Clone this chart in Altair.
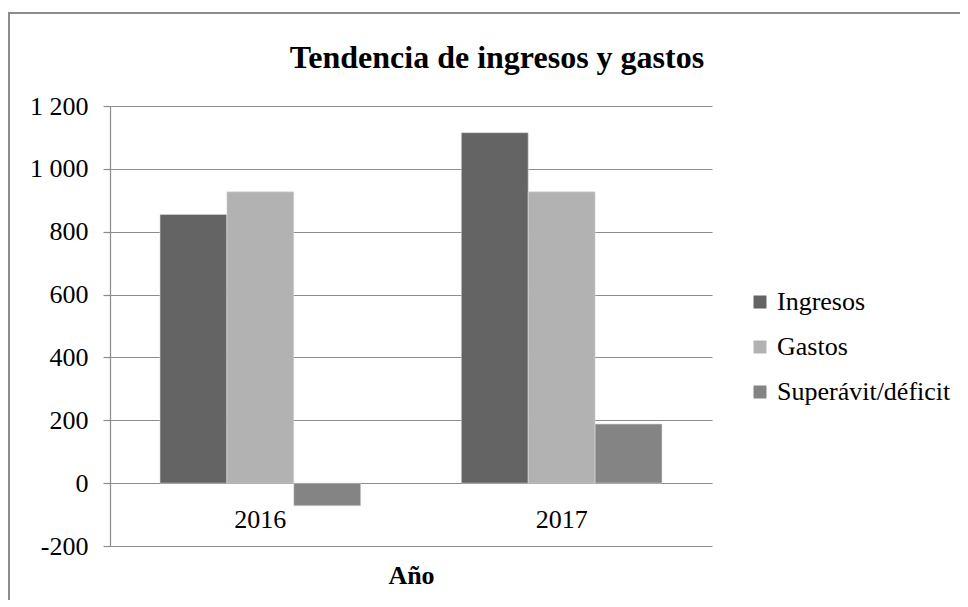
import altair as alt
import pandas as pd

years = ["2016", "2017"]
series = ["Ingresos", "Gastos", "Superávit/déficit"]
ingresos = [855, 1115]
gastos = [927, 927]
superavit = [-72, 188]
colors = ["#646464", "#b2b2b2", "#848484"]

rows = []
for i, y in enumerate(years):
    for s, vals in zip(series, [ingresos, gastos, superavit]):
        rows.append({"Año": y, "Serie": s, "Valor": vals[i]})
df = pd.DataFrame(rows)

FONT = "Liberation Serif"
W, H = 602, 440
FS = 26

bars = alt.Chart(df).mark_bar(stroke="#d9d9d9", strokeWidth=0.6).encode(
    x=alt.X("Año:N", sort=years,
            scale=alt.Scale(paddingInner=0.334, paddingOuter=0.166),
            axis=alt.Axis(title="Año", labelAngle=0, offset=-63, domain=False,
                          ticks=False, grid=False, labelPadding=23,
                          labelFontSize=FS, labelFont=FONT, labelColor="black",
                          titleFont=FONT, titleFontSize=FS, titleFontWeight="bold",
                          titleColor="black", titlePadding=30)),
    xOffset=alt.XOffset("Serie:N", sort=series, scale=alt.Scale(paddingInner=0)),
    y=alt.Y("Valor:Q",
            scale=alt.Scale(domain=[-200, 1200], nice=False),
            axis=alt.Axis(title=None, values=list(range(-200, 1201, 200)),
                          labelExpr="replace(replace(format(datum.value, ','), ',', ' '), '\u2212', '-')",
                          grid=True, gridColor="#8c8c8c", gridWidth=1.2,
                          domainColor="#8c8c8c", domainWidth=1.2,
                          tickColor="#8c8c8c", tickSize=7, tickWidth=1.2,
                          labelFontSize=FS, labelFont=FONT, labelColor="black",
                          labelPadding=15)),
    color=alt.Color("Serie:N", sort=series,
                    scale=alt.Scale(domain=series, range=colors),
                    legend=alt.Legend(title=None, orient="none", legendX=637, legendY=183,
                                      symbolType="square", symbolSize=169,
                                      symbolStrokeWidth=0, labelFont=FONT,
                                      labelFontSize=FS, labelColor="black",
                                      labelLimit=400, rowPadding=19, labelOffset=4)),
)

frame = alt.Chart(pd.DataFrame({"a": [0]})).mark_rect(
    fill=None, stroke="#8c8c8c", strokeWidth=2
).encode(
    x=alt.value(-101), y=alt.value(-93), x2=alt.value(W + 400), y2=alt.value(H + 200)
)

chart = alt.layer(frame, bars).properties(
    width=W, height=H,
    title=alt.TitleParams("Tendencia de ingresos y gastos", font=FONT, fontSize=32,
                          fontWeight="bold", color="black", dx=86, offset=-63),
    autosize=alt.AutoSizeParams(type="none"),
    padding={"left": 102, "top": 98, "right": 248, "bottom": 54},
).configure(font=FONT).configure_view(stroke=None)

chart.save("out.html", embed_options={"renderer": "svg", "actions": False})
